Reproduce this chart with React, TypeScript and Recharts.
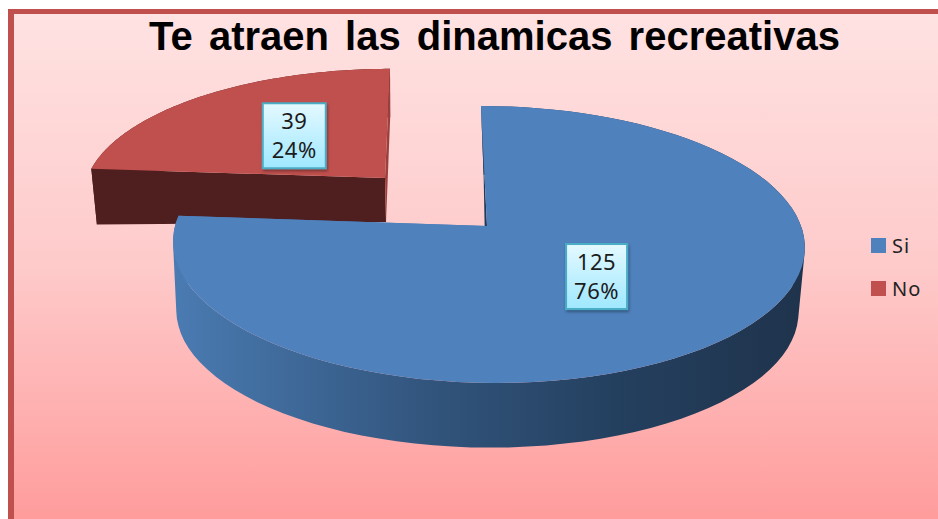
import { PieChart, Pie, Legend } from "recharts"

const categories = ["Si", "No"]
const counts = [125, 39]
const sliceColors = ["#4f81bd", "#c0504d"]
const chartTitle = "Te atraen las dinamicas recreativas"

// No goes first so that Si is painted over its wall, same as the 3D original
const total = counts[0] + counts[1]
const pieData = [
  { name: categories[1], value: counts[1], fill: sliceColors[1] },
  { name: categories[0], value: counts[0], fill: sliceColors[0] },
]
const firstAngle = 90 + (counts[1] / total) * 360

const W = 938
const H = 519
const CX = 487
const CY = 226
const RADIUS = 313

type Plane = { dx: number; dy: number; sx: number; sy: number; shear: number; roll: number }

// top face and bottom face of every slice in the tilted view
const views: Record<string, any> = {
  Si: {
    top: { dx: 0, dy: 0, sx: 1, sy: 1, shear: 0.05, roll: 0 },
    bottom: { dx: -1, dy: 67, sx: 0.985, sy: 0.985, shear: 0.02, roll: 0 },
    arcFill: "url(#siWall)",
    startEdge: "#1f3a5a",
    endEdge: "#4a7bb2",
    labelDx: -5,
    labelDy: -2,
  },
  No: {
    top: { dx: -102, dy: -48, sx: 0.955, sy: 0.91, shear: -0.046, roll: 0 },
    bottom: { dx: -101, dy: -4, sx: 0.94, sy: 0.875, shear: -0.04, roll: -0.04 },
    arcFill: "#4f1e1e",
    startEdge: "#4f1e1e",
    endEdge: "#9c403d",
    labelDx: 4,
    labelDy: 1,
  },
}

const TILT = 136 / RADIUS
const K = 0.1336
const M = 0.0032

function project(cx: number, cy: number, r: number, angle: number, frac: number, p: Plane) {
  const a = (angle * Math.PI) / 180
  const u = Math.cos(a) * frac
  const v = -Math.sin(a) * frac
  const w = 1 - K * v - M * u
  const px = (r * p.sx * u) / w
  const py = (r * TILT * p.sy * v) / w
  return [cx + p.dx + px + p.shear * py, cy + p.dy + py + p.roll * px]
}

function toPath(points: number[][]) {
  return "M" + points.map((q) => q[0].toFixed(1) + "," + q[1].toFixed(1)).join("L") + "Z"
}

// the side wall as one path of small quads, all wound the same way so nonzero fill keeps the whole union
function wallPath(top: number[][], bottom: number[][]) {
  let d = ""
  for (let i = 0; i < top.length - 1; i++) {
    const quad = [top[i], top[i + 1], bottom[i + 1], bottom[i]]
    let area = 0
    quad.forEach((q, j) => {
      const n = quad[(j + 1) % 4]
      area += q[0] * n[1] - n[0] * q[1]
    })
    d += toPath(area < 0 ? [...quad].reverse() : quad)
  }
  return d
}

function Slice3D(props: any) {
  const { cx, cy, outerRadius, startAngle, endAngle, fill, name } = props
  const view = views[name]
  const steps = 90
  const arcAngles = Array.from({ length: steps + 1 }, (_, i) => startAngle + ((endAngle - startAngle) * i) / steps)
  const topArc = arcAngles.map((a) => project(cx, cy, outerRadius, a, 1, view.top))
  const bottomArc = arcAngles.map((a) => project(cx, cy, outerRadius, a, 1, view.bottom))
  const topApex = project(cx, cy, outerRadius, 0, 0, view.top)
  const bottomApex = project(cx, cy, outerRadius, 0, 0, view.bottom)
  return (
    <g>
      <path d={wallPath(topArc, bottomArc)} fill={view.arcFill} />
      <path d={toPath([topApex, topArc[0], bottomArc[0], bottomApex])} fill={view.startEdge} />
      <path d={toPath([topApex, topArc[steps], bottomArc[steps], bottomApex])} fill={view.endEdge} />
      <path d={toPath([topApex, ...topArc])} fill={fill} />
    </g>
  )
}

function SliceLabel(props: any) {
  const { cx, cy, outerRadius, midAngle, value, percent, name } = props
  const view = views[name]
  const [px, py] = project(cx, cy, outerRadius, midAngle, 0.5, view.top)
  const x = px + view.labelDx
  const y = py + view.labelDy
  const bw = name === "Si" ? 61 : 63
  const bh = 65
  const textStyle = { fontFamily: "'Noto Sans', sans-serif", fontSize: 22, letterSpacing: 0.5, fill: "#1c1c1c" }
  return (
    <g>
      <rect x={x - bw / 2} y={y - bh / 2} width={bw} height={bh} fill="url(#labelBox)" stroke="#4bacc6" strokeWidth={2} filter="url(#labelShadow)" />
      <text x={x} y={y - 7} textAnchor="middle" style={textStyle}>{value}</text>
      <text x={x} y={y + 22} textAnchor="middle" style={textStyle}>{Math.round(percent * 100)}%</text>
    </g>
  )
}

function LegendBox() {
  return (
    <div style={{ position: "absolute", left: 871, top: 230 }}>
      {categories.map((c, i) => (
        <div key={c} style={{ display: "flex", alignItems: "center", height: 30, marginBottom: 13, fontFamily: "'Noto Sans', sans-serif", fontSize: 20, letterSpacing: 1, color: "#222" }}>
          <span style={{ width: 15, height: 15, background: sliceColors[i], marginRight: 6 }} />
          {c}
        </div>
      ))}
    </div>
  )
}

export default function App() {
  return (
    <div style={{ position: "absolute", left: 0, top: 0, width: W, height: H, background: "#fff", overflow: "hidden" }}>
      <div
        style={{
          position: "absolute",
          left: 8,
          top: 9,
          width: W - 8,
          height: H - 9,
          boxSizing: "border-box",
          borderLeft: "6px solid #c0504d",
          borderTop: "5px solid #c0504d",
          background: "linear-gradient(180deg, #ffe2e2 0%, #fecaca 50%, #ff9c9c 100%)",
        }}
      />
      <div
        style={{
          position: "absolute",
          left: 0,
          top: 13,
          width: 989,
          textAlign: "center",
          fontFamily: "'Liberation Sans', Arial, sans-serif",
          fontWeight: 700,
          fontSize: 40,
          lineHeight: "46px",
          wordSpacing: 5,
          whiteSpace: "nowrap",
          color: "#000",
        }}
      >
        {chartTitle}
      </div>
      <div style={{ position: "absolute", left: 0, top: 0 }}>
        <PieChart width={W} height={H} margin={{ top: 0, right: 0, bottom: 0, left: 0 }} style={{ background: "transparent" }}>
          <defs>
            <linearGradient id="siWall" gradientUnits="userSpaceOnUse" x1={173} y1={0} x2={805} y2={0}>
              <stop offset="0%" stopColor="#4a7bb2" />
              <stop offset="40%" stopColor="#32557d" />
              <stop offset="70%" stopColor="#24405f" />
              <stop offset="100%" stopColor="#1f334c" />
            </linearGradient>
            <linearGradient id="labelBox" x1="0" y1="0" x2="0" y2="1">
              <stop offset="0%" stopColor="#e4f9ff" />
              <stop offset="100%" stopColor="#9fe8ff" />
            </linearGradient>
            <filter id="labelShadow" x="-20%" y="-20%" width="140%" height="140%">
              <feDropShadow dx={1} dy={2} stdDeviation={1.5} floodColor="#000" floodOpacity={0.35} />
            </filter>
          </defs>
          <Pie
            data={pieData}
            dataKey="value"
            nameKey="name"
            cx={CX}
            cy={CY}
            innerRadius={0}
            outerRadius={RADIUS}
            startAngle={firstAngle}
            endAngle={firstAngle - 360}
            stroke="none"
            shape={Slice3D}
            label={SliceLabel}
            labelLine={false}
            isAnimationActive={false}
          />
          <Legend content={() => <LegendBox />} wrapperStyle={{ position: "absolute", left: 0, top: 0, width: 0, height: 0 }} />
        </PieChart>
      </div>
    </div>
  )
}
